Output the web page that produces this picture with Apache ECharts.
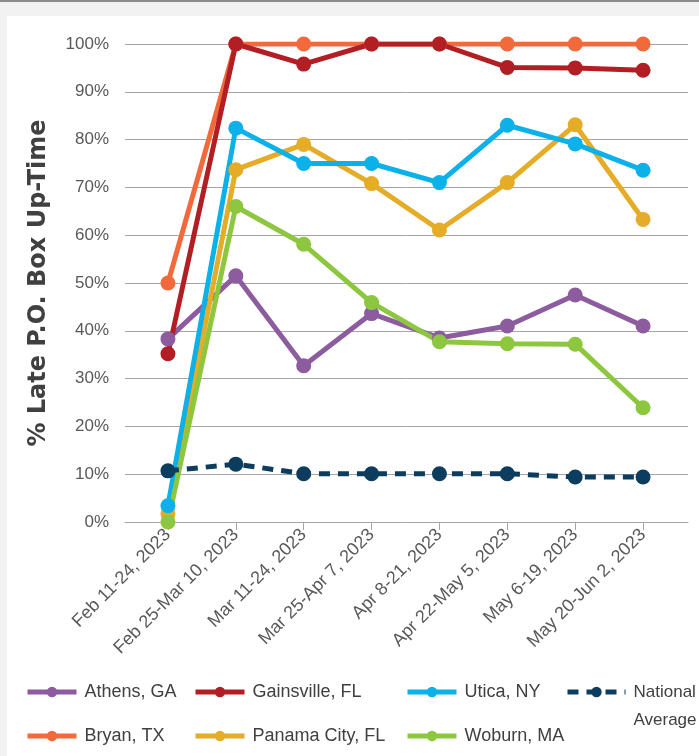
<!DOCTYPE html>
<html>
<head>
<meta charset="utf-8">
<script src="https://cdn.jsdelivr.net/npm/echarts@6/dist/echarts.min.js"></script>
<style>
html,body{margin:0;padding:0;background:#f2f2f2;width:699px;height:756px;overflow:hidden;}
#topline{position:absolute;left:0;top:0;width:699px;height:2px;background:#8a8a8a;}
#panel{position:absolute;left:7px;top:16px;width:692px;height:740px;background:#ffffff;}
#chart{position:absolute;left:0;top:0;width:699px;height:756px;}
</style>
</head>
<body>
<div id="topline"></div>
<div id="panel"></div>
<div id="chart"></div>
<script>
const categories = ["Feb 11-24, 2023","Feb 25-Mar 10, 2023","Mar 11-24, 2023","Mar 25-Apr 7, 2023","Apr 8-21, 2023","Apr 22-May 5, 2023","May 6-19, 2023","May 20-Jun 2, 2023"];
const athens     = [38.3, 51.5, 32.7, 43.6, 38.5, 41.0, 47.5, 41.0];
const bryan      = [50.0, 100, 100, 100, 100, 100, 100, 100];
const gainsville = [35.2, 100, 95.8, 100, 100, 95.1, 95.0, 94.5];
const panama     = [1.7, 73.7, 79.0, 70.8, 61.1, 71.0, 83.1, 63.3];
const utica      = [3.4, 82.4, 75.0, 75.0, 71.0, 83.0, 79.1, 73.6];
const woburn     = [0.0, 66.0, 58.1, 45.9, 37.7, 37.3, 37.2, 23.9];
const national   = [10.7, 12.1, 10.1, 10.1, 10.1, 10.1, 9.4, 9.4];
const yTicks = [0,10,20,30,40,50,60,70,80,90,100];

const NARROW = "'Liberation Sans Narrow','Arial Narrow','Liberation Sans',Arial,sans-serif";
const chart = echarts.init(document.getElementById('chart'), null, {renderer:'canvas'});

function mk(name, data, color, dashed) {
  return {
    name: name, type: 'line', data: data,
    xAxisIndex: 1, yAxisIndex: 1,
    symbol: 'circle', symbolSize: 15,
    lineStyle: {width: 5, color: color, type: dashed ? [11, 8] : 'solid'},
    itemStyle: {color: color},
    emphasis: {disabled: true},
    animation: false, z: 3
  };
}
const legText = {fontFamily: NARROW, fontSize: 18, color: '#404040', lineHeight: 24, padding: [0,0,0,3]};
function leg(left, top, names, extra) {
  return Object.assign({
    orient: 'vertical', left: left, top: top, data: names, padding: 0,
    height: 90,
    itemWidth: 49, itemHeight: 13, itemGap: 20,
    lineStyle: {width: 5},
    textStyle: legText, selectedMode: false
  }, extra || {});
}

chart.setOption({
  animation: false,
  grid: [
    {left: 125, right: 11, top: 44, bottom: 234},
    {left: 134, right: 22, top: 44, bottom: 234}
  ],
  xAxis: [
    {gridIndex: 0, type: 'value', min: 0, max: 1, axisLabel: {show: false}, axisTick: {show: false},
     splitLine: {show: false}, axisLine: {show: true, lineStyle: {color: '#a6a6a6', width: 1}}},
    {gridIndex: 1, type: 'category', data: categories, boundaryGap: true,
     axisLine: {show: false},
     axisTick: {show: true, alignWithLabel: true, length: 8, lineStyle: {color: '#a6a6a6'}},
     axisLabel: {rotate: 45, interval: 0, margin: 10, fontFamily: NARROW, fontSize: 18, color: '#595959'}}
  ],
  yAxis: [
    {gridIndex: 0, type: 'value', min: 0, max: 100, interval: 10,
     axisLine: {show: false}, axisTick: {show: false},
     splitLine: {show: true, lineStyle: {color: '#a6a6a6', width: 1}},
     axisLabel: {margin: 16, fontFamily: NARROW, fontSize: 17, color: '#595959',
       formatter: function(v){ return yTicks.indexOf(v) >= 0 ? v + '%' : ''; }},
     name: '% Late P.O. Box Up-Time', nameLocation: 'middle', nameGap: 74, nameRotate: 90,
     nameTextStyle: {fontFamily: "'DejaVu Sans',sans-serif", fontWeight: 'bold', fontSize: 24, color: '#404040'}},
    {gridIndex: 1, type: 'value', min: 0, max: 100, interval: 10, show: false, splitLine: {show: false}}
  ],
  legend: [
    leg(25, 680, ['Athens, GA', 'Bryan, TX']),
    leg(193, 680, ['Gainsville, FL', 'Panama City, FL']),
    leg(405, 680, ['Utica, NY', 'Woburn, MA']),
    leg(565, 650, ['National Average'], {
      formatter: function(){ return '\nNational\nAverage'; },
      itemWidth: 58, height: 100,
      textStyle: Object.assign({}, legText, {fontSize: 17, lineHeight: 28, padding: [0,0,0,3]})
    })
  ],
  series: [
    mk('Athens, GA', athens, '#8c5c9e'),
    mk('Bryan, TX', bryan, '#f26a3b'),
    mk('Gainsville, FL', gainsville, '#b11f25'),
    mk('Panama City, FL', panama, '#e5ac27'),
    mk('Utica, NY', utica, '#0db1ea'),
    mk('Woburn, MA', woburn, '#8dc63f'),
    mk('National Average', national, '#0c3d5e', true)
  ]
});
</script>
</body>
</html>
